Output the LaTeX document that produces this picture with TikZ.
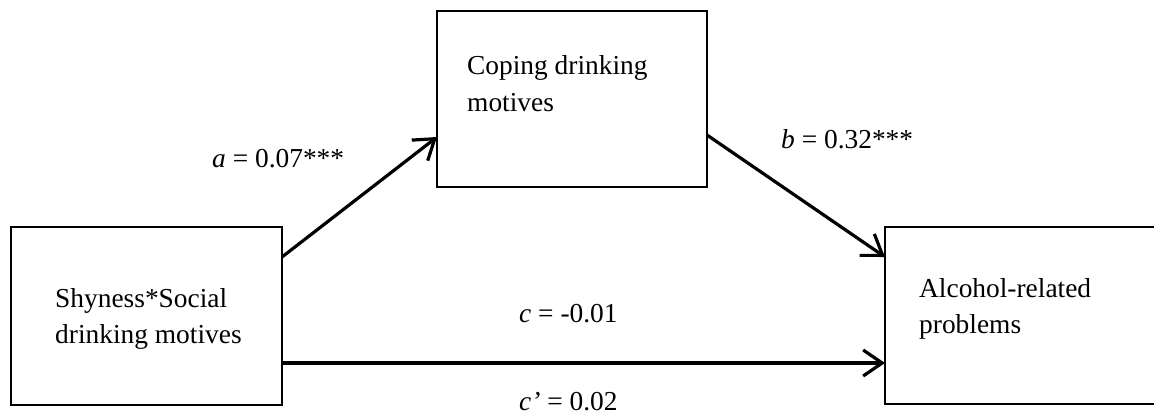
\documentclass[tikz,border=0pt]{standalone}
\usepackage{fontspec}
\setmainfont{Liberation Serif}
\usetikzlibrary{arrows.meta,calc}
\begin{document}
\begin{tikzpicture}[x=1pt,y=-1pt,
  box/.style={draw=black,line width=1.6pt,rectangle,inner sep=0pt,outer sep=0pt},
  txt/.style={anchor=base west,inner sep=0pt,font=\fontsize{27.4}{36}\selectfont},
  arr/.style={line width=3.2pt,-{Straight Barb[length=19pt,width=26pt,line width=3.2pt]}}]
\useasboundingbox (0,0) rectangle (1154,418);
% boxes
\node[box,minimum width=271pt,minimum height=178pt] (L) at (146.5,316) {};
\node[box,minimum width=270pt,minimum height=176pt] (T) at (572,99) {};
\node[box,minimum width=275pt,minimum height=177pt] (R) at (1022.5,315.5) {};
% box texts
\node[txt] (L1) at (55,307) {Shyness*Social};
\node[txt] (L2) at (55,343) {drinking motives};
\node[txt] (T1) at (467,74) {Coping drinking};
\node[txt] (T2) at (467,111) {motives};
\node[txt] (R1) at (919,297) {Alcohol-related};
\node[txt] (R2) at (919,333) {problems};
% connectors
\coordinate (cs) at ($(L.south east)+(0,-42)$);
\draw[arr] ($(L.north east)+(0,30)$) -- ($(T.west)+(0,38)$);
\draw[arr] ($(T.east)+(0,36)$) -- ($(R.north west)+(0,30)$);
\draw[arr] (cs) -- (cs -| R.west);
% labels
\node[txt] (la) at (212,167) {\textit{a} = 0.07***};
\node[txt] (lb) at (781,148) {\textit{b} = 0.32***};
\node[txt] (lc) at (519,322) {\textit{c} = -0.01};
\node[txt] (lcp) at (519,410) {\textit{c’} = 0.02};
\end{tikzpicture}
\end{document}
